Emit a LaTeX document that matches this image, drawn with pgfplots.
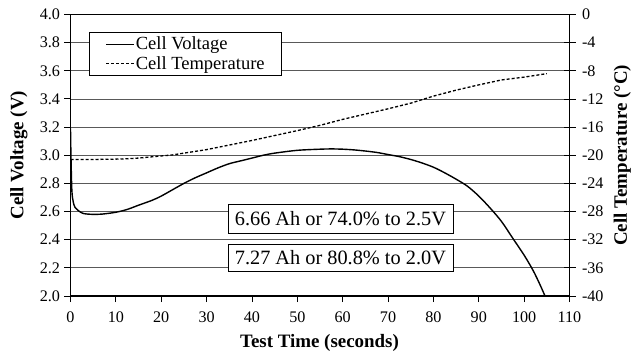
\documentclass[border=0pt]{standalone}
\usepackage{pgfplots}
\pgfplotsset{compat=1.18}
\usepackage{fontspec}
\setmainfont{Liberation Serif}
\newcommand\tickfont{\fontsize{16.2}{18}\selectfont\rmfamily}
\begin{document}
\begin{tikzpicture}
\pgfplotsset{
  every axis/.append style={
    scale only axis, width=499bp, height=281.5bp,
    at={(0,0)}, anchor=south west,
    xmin=0, xmax=110,
    /pgf/number format/assume math mode=true,
    axis line style={line width=1.2bp, black},
    tick style={line width=0.9bp, black},
    major tick length=6bp,
    label style={font=\fontsize{19}{22}\selectfont\bfseries},
  }
}
\begin{axis}[
  ymin=2, ymax=4,
  xtick={0,10,20,30,40,50,60,70,80,90,100,110},
  xticklabels={0,10,20,30,40,50,60,70,80,90,100,110},
  ytick={2.0,2.2,2.4,2.6,2.8,3.0,3.2,3.4,3.6,3.8,4.0},
  yticklabels={2.0,2.2,2.4,2.6,2.8,3.0,3.2,3.4,3.6,3.8,4.0},
  xticklabel style={font=\tickfont, yshift=-6bp},
  yticklabel style={font=\tickfont, xshift=-1bp},
  xtick pos=bottom, ytick pos=left, tick align=outside,
  ymajorgrids, grid style={black!65, line width=0.8bp},
  xlabel={Test Time (seconds)},
  ylabel={Cell Voltage (V)},
  xlabel style={at={(axis description cs:0.499,-0.168)}, anchor=center},
  ylabel style={at={(axis description cs:-0.1032,0.5)}, anchor=center},
]
\addplot[black, line width=1.4bp, smooth] coordinates {
(0,3.19) (0.1,3.0) (0.3,2.75) (0.6,2.67) (1,2.63) (2,2.6) (3,2.585) (5,2.58) (7,2.582)
(10,2.595) (12.5,2.615) (15,2.645) (18,2.68) (20,2.71) (22.5,2.755) (25,2.80)
(27.5,2.84) (30,2.875) (32.5,2.91) (35,2.94) (37.5,2.96) (40,2.98) (42.5,3.0)
(45,3.015) (50,3.035) (55,3.043) (57.5,3.045) (60,3.043) (62.5,3.038) (65,3.03)
(67.5,3.02) (70,3.005) (72.5,2.99) (75,2.97) (77.5,2.945) (80,2.915) (82.5,2.875)
(85,2.83) (87.5,2.78) (90,2.71) (92.5,2.625) (95,2.53) (97.5,2.41) (100,2.29)
(102,2.18) (103.5,2.08) (104.6,2.0)
};
\node[draw=black, line width=0.8bp, fill=white, minimum width=225bp, minimum height=29bp, inner sep=0bp, font=\fontsize{20.4}{24}\selectfont] at (axis cs:59.5,2.551) {6.66 Ah or 74.0\% to 2.5V};
\node[draw=black, line width=0.8bp, fill=white, minimum width=225bp, minimum height=27bp, inner sep=0bp, font=\fontsize{20.4}{24}\selectfont] at (axis cs:59.5,2.272) {7.27 Ah or 80.8\% to 2.0V};
\end{axis}
\begin{axis}[
  ymin=-40, ymax=0,
  ytick={-40,-36,-32,-28,-24,-20,-16,-12,-8,-4,0},
  yticklabels={-40,-36,-32,-28,-24,-20,-16,-12,-8,-4,0},
  yticklabel style={font=\tickfont, xshift=3bp},
  axis x line=none, axis y line*=right, ytick pos=right,
  tick align=center, major tick length=12bp,
  ylabel={Cell Temperature (°C)},
  ylabel style={at={(axis description cs:1.106,0.5)}, anchor=center},
  legend image code/.code={\draw[#1] (0bp,0bp) -- (28bp,0bp);},
  legend cell align=left,
  legend style={at={(axis description cs:0.037,0.939)}, anchor=north west,
    draw=black, line width=0.8bp, fill=white,
    font=\fontsize{18.6}{21}\selectfont,
    inner xsep=16bp, inner ysep=4bp, row sep=3bp,
    nodes={inner sep=1bp}},
]
\addlegendimage{black, line width=1.4bp}
\addlegendentry{Cell Voltage}
\addplot[black, line width=1.3bp, dash pattern=on 3bp off 2bp] coordinates {
(0,-20.6) (5,-20.6) (10,-20.55) (12.5,-20.5) (15,-20.4) (17.5,-20.25) (20,-20.1)
(22.5,-19.95) (25,-19.7) (27.5,-19.45) (30,-19.2) (35,-18.55) (40,-17.9) (45,-17.2)
(50,-16.5) (55,-15.75) (60,-14.9) (65,-14.15) (70,-13.4) (75,-12.6) (78,-12.0)
(80,-11.6) (85,-10.75) (90,-10.0) (95,-9.3) (100,-8.9) (105,-8.4)
};
\addlegendentry{Cell Temperature}
\end{axis}
\pgfresetboundingbox
\path[use as bounding box] (-70.5bp,-60bp) rectangle (560.5bp,296bp);
\end{tikzpicture}
\end{document}
